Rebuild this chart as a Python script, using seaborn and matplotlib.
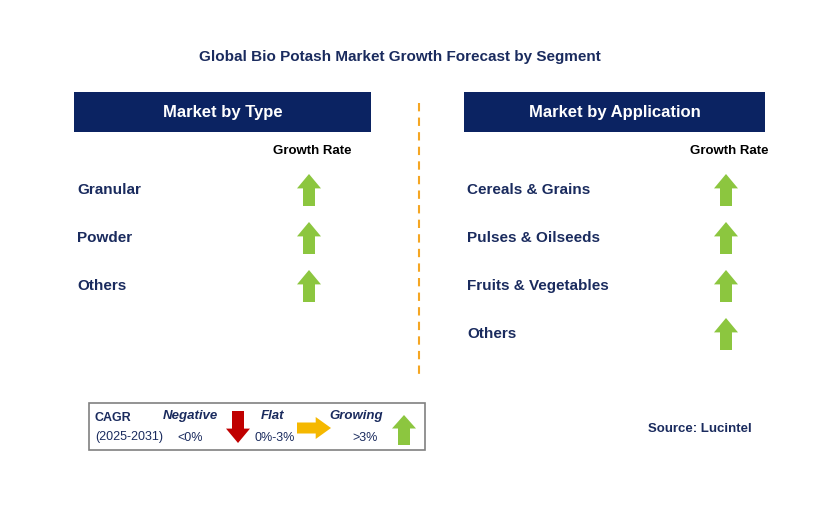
import matplotlib
matplotlib.use("Agg")
import matplotlib.pyplot as plt
import seaborn as sns
from matplotlib.patches import Rectangle, Polygon

title = "Global Bio Potash Market Growth Forecast by Segment"
type_categories = ["Granular", "Powder", "Others"]
type_growth = ["up", "up", "up"]
app_categories = ["Cereals & Grains", "Pulses & Oilseeds", "Fruits & Vegetables", "Others"]
app_growth = ["up", "up", "up", "up"]
panel_titles = ["Market by Type", "Market by Application"]
source = "Source: Lucintel"

sns.set_theme(style="white", font="Liberation Sans")
NAVY = "#0B2362"
TXT = "#1A2B5E"
GREEN = "#8CC63F"
RED = "#C00000"
ORANGE = "#F5B800"

fig = plt.figure(figsize=(8.29, 5.13), dpi=100)
ax = fig.add_axes([0, 0, 1, 1])
ax.set_xlim(0, 829)
ax.set_ylim(513, 0)
ax.axis("off")

def arrow(cx, cy, d, color, w=24, h=32):
    hw, sw, hh = w / 2, w / 4, h * 0.45
    if d == "up":
        pts = [(cx, cy - h/2), (cx + hw, cy - h/2 + hh), (cx + sw, cy - h/2 + hh),
               (cx + sw, cy + h/2), (cx - sw, cy + h/2), (cx - sw, cy - h/2 + hh), (cx - hw, cy - h/2 + hh)]
    elif d == "down":
        pts = [(cx, cy + h/2), (cx + hw, cy + h/2 - hh), (cx + sw, cy + h/2 - hh),
               (cx + sw, cy - h/2), (cx - sw, cy - h/2), (cx - sw, cy + h/2 - hh), (cx - hw, cy + h/2 - hh)]
    else:  # right
        pts = [(cx + h/2, cy), (cx + h/2 - hh, cy - hw), (cx + h/2 - hh, cy - sw),
               (cx - h/2, cy - sw), (cx - h/2, cy + sw), (cx + h/2 - hh, cy + sw), (cx + h/2 - hh, cy + hw)]
    ax.add_patch(Polygon(pts, closed=True, color=color, lw=0))

ax.text(400, 57, title, ha="center", va="center", fontsize=11, fontweight="bold", color=TXT)

panels = [(74, 371, 309, type_categories, type_growth), (464, 765, 726, app_categories, app_growth)]
for (x0, x1, ax_x, cats, grow), pt in zip(panels, panel_titles):
    ax.add_patch(Rectangle((x0, 92), x1 - x0, 40, color=NAVY, lw=0))
    ax.text((x0 + x1) / 2, 112, pt, ha="center", va="center", fontsize=12, fontweight="bold", color="white")
    ax.text(ax_x + 3, 151, "Growth Rate", ha="center", va="center", fontsize=9.5, fontweight="bold", color="black")
    for i, (c, g) in enumerate(zip(cats, grow)):
        y = 190 + 48 * i
        ax.text(x0 + 3, y, c, ha="left", va="center", fontsize=11, fontweight="bold", color=TXT)
        arrow(ax_x, y, g, GREEN)

ax.plot([419, 419], [103, 380], ls=(0, (4, 3)), color="#F5A623", lw=1.5)

ax.add_patch(Rectangle((89, 403), 336, 47, fill=False, ec="#808080", lw=1.2))
ax.text(95, 418, "CAGR", fontsize=9, fontweight="bold", color=TXT, va="center")
ax.text(95, 437, "(2025-2031)", fontsize=9, color=TXT, va="center")
ax.text(190, 416, "Negative", fontsize=9.5, fontweight="bold", style="italic", color=TXT, va="center", ha="center")
ax.text(190, 438, "<0%", fontsize=9, color=TXT, va="center", ha="center")
arrow(238, 427, "down", RED, w=24, h=32)
ax.text(273, 416, "Flat", fontsize=9.5, fontweight="bold", style="italic", color=TXT, va="center", ha="center")
ax.text(275, 438, "0%-3%", fontsize=9, color=TXT, va="center", ha="center")
arrow(314, 428, "right", ORANGE, w=22, h=34)
ax.text(356, 416, "Growing", fontsize=9.5, fontweight="bold", style="italic", color=TXT, va="center", ha="center")
ax.text(365, 438, ">3%", fontsize=9, color=TXT, va="center", ha="center")
arrow(404, 430, "up", GREEN, w=24, h=30)

ax.text(700, 429, source, fontsize=9.5, fontweight="bold", color=TXT, va="center", ha="center")

fig.savefig("out.png", dpi=100)
